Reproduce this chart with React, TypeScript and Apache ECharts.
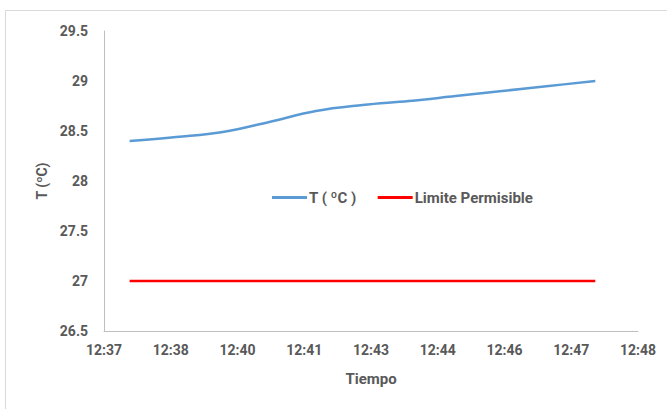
import React, { useEffect, useRef } from "react";
import * as echarts from "echarts";

// Axis ticks (Excel-style, every 86 s starting 12:37:27)
const AXIS_START = "12:37:27";
const TICK_STEP_S = 86;
const TICK_LABELS = ["12:37", "12:38", "12:40", "12:41", "12:43", "12:44", "12:46", "12:47", "12:48"];

// Samples
const TIMES = ["12:38", "12:39", "12:40", "12:41", "12:42", "12:43", "12:44", "12:45", "12:46", "12:47", "12:48"];
const TEMPERATURE = [28.4, 28.44, 28.49, 28.59, 28.7, 28.76, 28.8, 28.85, 28.9, 28.95, 29.0];
const LIMIT = [27, 27, 27, 27, 27, 27, 27, 27, 27, 27, 27];

const Y_MIN = 26.5;
const Y_MAX = 29.5;
const Y_STEP = 0.5;

const toSec = (t: string) => {
  const p = t.split(":").map(Number);
  return p[0] * 3600 + p[1] * 60 + (p[2] || 0);
};

export default function App() {
  const ref = useRef<HTMLDivElement>(null);
  useEffect(() => {
    if (!ref.current) return;
    const chart = echarts.init(ref.current, undefined, { renderer: "svg" });
    const start = toSec(AXIS_START);
    const xs = TIMES.map((t) => toSec(t) - start);
    const font = "Roboto, 'Liberation Sans', sans-serif";
    const labelColor = "#595959";
    chart.setOption({
      animation: false,
      backgroundColor: "#ffffff",
      graphic: [
        {
          type: "rect",
          shape: { x: 5.5, y: 10.5, width: 720, height: 460 },
          style: { fill: "none", stroke: "#d9d9d9", lineWidth: 1 },
          silent: true,
        },
      ],
      grid: { left: 104, right: 29, top: 31, bottom: 78, containLabel: false },
      legend: {
        left: 267,
        top: 185,
        itemWidth: 35,
        itemHeight: 3,
        itemGap: 21,
        icon: "rect",
        textStyle: { color: labelColor, fontSize: 15, fontWeight: "bold", fontFamily: font, padding: [0, 0, 0, -3] },
        data: ["T ( ºC )", "Limite Permisible"],
      },
      xAxis: {
        type: "value",
        min: 0,
        max: TICK_STEP_S * (TICK_LABELS.length - 1),
        interval: TICK_STEP_S,
        name: "Tiempo",
        nameLocation: "middle",
        nameGap: 40,
        nameTextStyle: { color: labelColor, fontSize: 15, fontWeight: "bold", fontFamily: font },
        axisLine: { show: true, lineStyle: { color: "#bfbfbf", width: 1 } },
        axisTick: { show: false },
        splitLine: { show: false },
        axisLabel: {
          color: labelColor,
          fontSize: 14,
          fontWeight: "bold",
          fontFamily: font,
          margin: 12,
          formatter: (v: number) => TICK_LABELS[Math.round(v / TICK_STEP_S)] ?? "",
        },
      },
      yAxis: {
        type: "value",
        min: Y_MIN,
        max: Y_MAX,
        interval: Y_STEP,
        name: "T (ºC)",
        nameLocation: "middle",
        nameGap: 54,
        nameTextStyle: { color: labelColor, fontSize: 14, fontWeight: "bold", fontFamily: font },
        axisLine: { show: true, lineStyle: { color: "#bfbfbf", width: 1 } },
        axisTick: { show: false },
        splitLine: { show: false },
        axisLabel: {
          color: labelColor,
          fontSize: 14,
          fontWeight: "bold",
          fontFamily: font,
          margin: 16,
        },
      },
      series: [
        {
          name: "T ( ºC )",
          type: "line",
          smooth: 0.4,
          showSymbol: false,
          symbol: "none",
          lineStyle: { color: "#5b9bd5", width: 2.5 },
          itemStyle: { color: "#5b9bd5" },
          data: xs.map((x, i) => [x, TEMPERATURE[i]]),
        },
        {
          name: "Limite Permisible",
          type: "line",
          showSymbol: false,
          symbol: "none",
          lineStyle: { color: "#ff0000", width: 2.5 },
          itemStyle: { color: "#ff0000" },
          data: xs.map((x, i) => [x, LIMIT[i]]),
        },
      ],
    });
    return () => chart.dispose();
  }, []);
  return (
    <div
      ref={ref}
      style={{ position: "fixed", left: 0, top: 0, width: 667, height: 409, background: "#fff" }}
    />
  );
}
